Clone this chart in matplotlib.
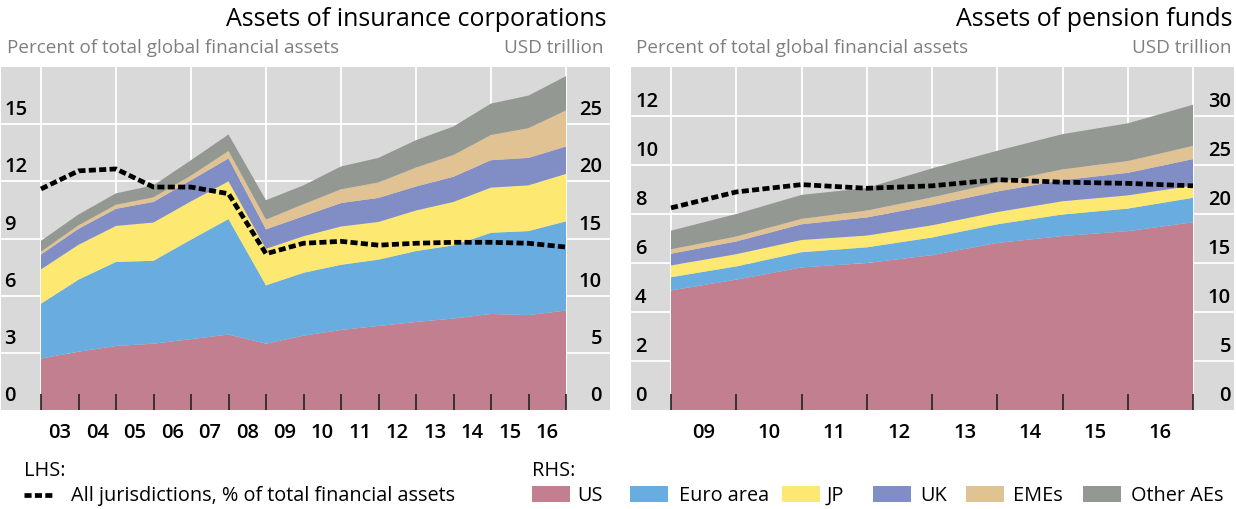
import matplotlib
matplotlib.use('Agg')
import matplotlib.pyplot as plt
import matplotlib.transforms as mtransforms
from matplotlib.patches import Rectangle
from matplotlib.lines import Line2D
import numpy as np

plt.rcParams['font.family'] = ['Open Sans', 'DejaVu Sans']

# ---------------- data ----------------
series_names = ['US', 'Euro area', 'JP', 'UK', 'EMEs', 'Other AEs']
series_colors = ['#C27F8F', '#69ACE0', '#FDE872', '#818DC5', '#E1C393', '#939992']

# Insurance corporations, year-end 2002..2016 (USD trillion)
ins_labels = ['03', '04', '05', '06', '07', '08', '09', '10', '11', '12', '13', '14', '15', '16']
ins_us = [4.5, 5.1, 5.6, 5.8, 6.2, 6.6, 5.8, 6.5, 7.0, 7.35, 7.7, 8.0, 8.4, 8.3, 8.7]
ins_euro = [4.8, 6.3, 7.35, 7.25, 8.7, 10.1, 5.1, 5.5, 5.7, 5.8, 6.2, 6.4, 7.1, 7.35, 7.8]
ins_jp = [3.0, 3.05, 3.15, 3.35, 3.35, 3.3, 3.2, 3.2, 3.35, 3.3, 3.55, 3.8, 3.95, 4.0, 4.15]
ins_uk = [1.3, 1.4, 1.5, 1.8, 1.85, 2.0, 1.7, 1.75, 2.05, 2.1, 2.1, 2.2, 2.4, 2.4, 2.4]
ins_eme = [0.25, 0.3, 0.35, 0.4, 0.4, 0.65, 0.85, 1.05, 1.2, 1.35, 1.65, 1.9, 2.2, 2.6, 3.15]
ins_other = [0.95, 0.95, 1.0, 1.05, 1.35, 1.45, 1.7, 1.65, 2.0, 2.15, 2.4, 2.5, 2.75, 2.85, 3.0]
# % of total global financial assets (LHS)
ins_pct = [11.6, 12.55, 12.65, 11.7, 11.7, 11.35, 8.2, 8.75, 8.85, 8.65, 8.75, 8.8, 8.8, 8.75, 8.55]

# Pension funds, year-end 2008..2016 (USD trillion)
pen_labels = ['09', '10', '11', '12', '13', '14', '15', '16']
pen_us = [12.2, 13.3, 14.55, 15.0, 15.8, 17.05, 17.75, 18.25, 19.15]
pen_euro = [1.35, 1.35, 1.55, 1.6, 1.8, 1.9, 2.2, 2.3, 2.5]
pen_jp = [1.2, 1.25, 1.25, 1.2, 1.25, 1.25, 1.35, 1.35, 1.25]
pen_uk = [1.2, 1.3, 1.6, 1.85, 2.05, 2.1, 2.15, 2.3, 2.7]
pen_eme = [0.45, 0.5, 0.55, 0.7, 0.8, 0.9, 1.1, 1.2, 1.35]
pen_other = [1.9, 2.3, 2.45, 2.3, 2.95, 3.25, 3.6, 3.85, 4.2]
pen_pct = [8.25, 8.9, 9.2, 9.05, 9.15, 9.4, 9.3, 9.25, 9.15]

# ---------------- figure ----------------
W, H = 1236, 509
fig = plt.figure(figsize=(W / 100, H / 100), dpi=100)
fig.patch.set_facecolor('white')

BG = '#D9D9D9'
SUB = '#7F7F7F'
TICK_FS = 14.5
TICK_W = 'semibold'
DASH = dict(color='black', lw=3.4, dashes=(1.5, 0.7))


def fx(px):
    return px / W


def fy(py):
    return (H - py) / H


def panel(x0, x1, data_x0, data_x1, stacks, pct, labels, lhs_max, lhs_step,
          rhs_max, rhs_step, vstep, left_lab_off, right_lab_off):
    y0, y1 = 67, 410
    ax = fig.add_axes([fx(x0), fy(y1), fx(x1 - x0), (y1 - y0) / H])
    n = len(pct)
    ppu = (data_x1 - data_x0) / (n - 1)
    ax.set_xlim((x0 - data_x0) / ppu, (n - 1) + (x1 - data_x1) / ppu)
    ax.set_ylim(0, rhs_max)
    ax.set_facecolor(BG)
    x = np.arange(n)
    ax.stackplot(x, *stacks, colors=series_colors, linewidth=0, zorder=1)
    rhs_ticks = np.arange(0, rhs_max, rhs_step)
    for v in rhs_ticks[1:]:
        ax.axhline(v, color='white', lw=1.3, zorder=0.5)
    for xv in range(0, n, vstep):
        ax.axvline(xv, color='white', lw=1.3, zorder=0.5)
    for s in ax.spines.values():
        s.set_visible(False)
    ax.set_yticks([])
    ax.set_xticks(range(n))
    ax.set_xticklabels([])
    ax.set_xticks(np.arange(n - 1) + 0.5, minor=True)
    ax.set_xticklabels(labels, minor=True, fontsize=TICK_FS, fontweight=TICK_W)
    ax.tick_params(axis='x', which='major', direction='in', length=11.5, width=1.2,
                   color='#222222')
    ax.tick_params(axis='x', which='minor', length=0, pad=9)

    ax2 = ax.twinx()
    ax2.set_ylim(0, lhs_max)
    ax2.set_yticks([])
    for s in ax2.spines.values():
        s.set_visible(False)
    ax2.plot(x, pct, solid_capstyle='butt', zorder=5, **DASH)

    tl = mtransforms.blended_transform_factory(ax.transAxes, ax2.transData)
    for v in np.arange(0, lhs_max - lhs_step / 2, lhs_step):
        ax2.annotate(f'{int(v)}', xy=(0, v), xycoords=tl, xytext=(left_lab_off, 4),
                     textcoords='offset pixels', ha='left', va='bottom',
                     fontsize=TICK_FS, fontweight=TICK_W, annotation_clip=False)
    tr = mtransforms.blended_transform_factory(ax.transAxes, ax.transData)
    for v in rhs_ticks:
        ax.annotate(f'{int(v)}', xy=(1, v), xycoords=tr, xytext=(right_lab_off, 4),
                    textcoords='offset pixels', ha='right', va='bottom',
                    fontsize=TICK_FS, fontweight=TICK_W, annotation_clip=False, zorder=6)
    return ax


panel(1, 610, 41, 566,
      [ins_us, ins_euro, ins_jp, ins_uk, ins_eme, ins_other], ins_pct, ins_labels,
      18, 3, 30, 5, 2, 3, -8)
panel(631, 1234, 671, 1193,
      [pen_us, pen_euro, pen_jp, pen_uk, pen_eme, pen_other], pen_pct, pen_labels,
      14, 2, 35, 5, 1, 4, -3)

# titles and sub-titles
fig.text(fx(607), fy(26), 'Assets of insurance corporations', ha='right', va='baseline',
         fontsize=18, color='black')
fig.text(fx(1233), fy(26), 'Assets of pension funds', ha='right', va='baseline',
         fontsize=18, color='black')
for xl, xr in [(7, 603), (636, 1232)]:
    fig.text(fx(xl), fy(53), 'Percent of total global financial assets', ha='left',
             va='baseline', fontsize=13.6, color=SUB)
    fig.text(fx(xr), fy(53), 'USD trillion', ha='right', va='baseline',
             fontsize=13.6, color=SUB)

# legend
LEG_FS = 14.3
fig.text(fx(24), fy(476), 'LHS:', ha='left', va='baseline', fontsize=LEG_FS)
fig.add_artist(Line2D([fx(24), fx(55)], [fy(495), fy(495)], transform=fig.transFigure,
                      **DASH))
fig.text(fx(71), fy(501), 'All jurisdictions, % of total financial assets', ha='left',
         va='baseline', fontsize=LEG_FS)
fig.text(fx(532), fy(476), 'RHS:', ha='left', va='baseline', fontsize=LEG_FS)
patch_x = [532, 630, 782, 873, 966, 1083]
text_x = [577, 679, 827, 920, 1013, 1131]
for name, col, px, tx in zip(series_names, series_colors, patch_x, text_x):
    fig.add_artist(Rectangle((fx(px), fy(502)), fx(38), 16 / H, transform=fig.transFigure,
                             facecolor=col, edgecolor='none'))
    fig.text(fx(tx), fy(501), name, ha='left', va='baseline', fontsize=LEG_FS)

fig.savefig('out.png', dpi=100, facecolor='white')
